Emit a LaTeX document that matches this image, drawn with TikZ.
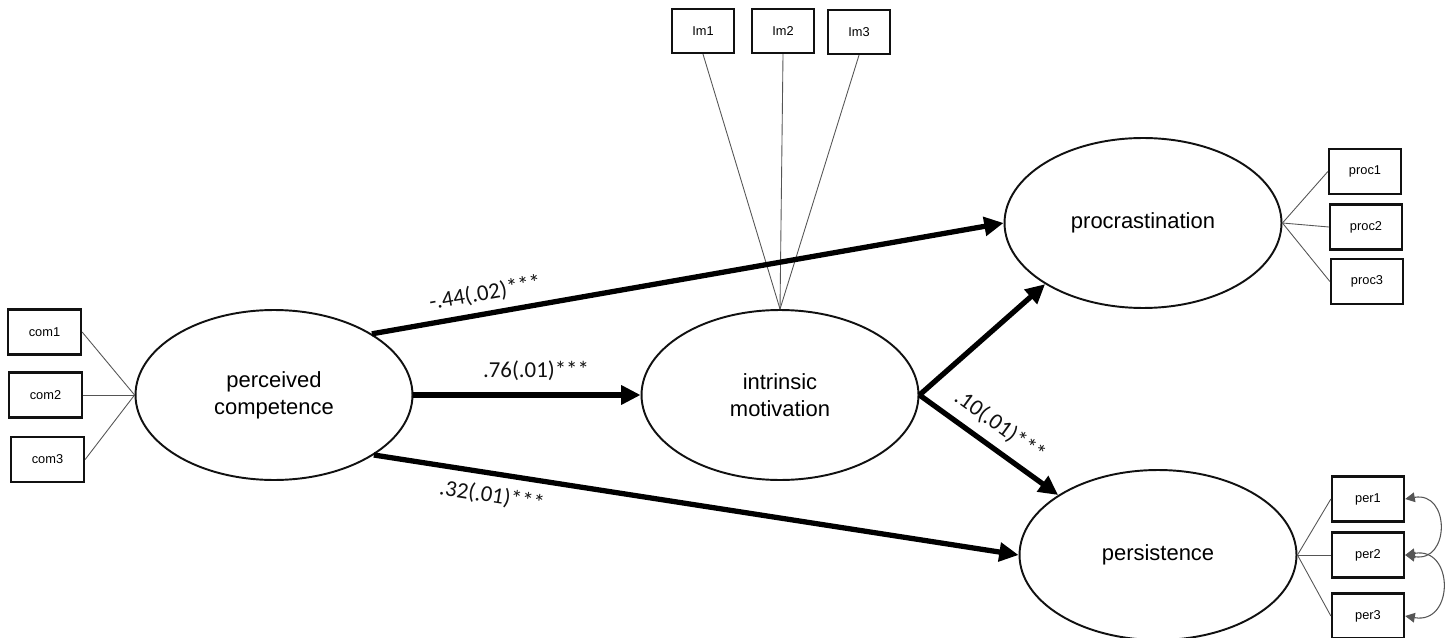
\documentclass[tikz,border=0pt]{standalone}
\usepackage{fontspec}
\setmainfont{Liberation Sans}
\newfontfamily\coeffont{Carlito}
\usepackage{tikz}
\usetikzlibrary{arrows.meta,shapes.geometric,positioning}
\definecolor{ink}{HTML}{111111}
\definecolor{thin}{HTML}{555555}
\tikzset{
  latent/.style={ellipse, draw=ink, line width=1.1pt, minimum width=5.54cm, minimum height=3.4cm, inner sep=0pt, align=center, font=\fontsize{12.5}{15.5}\selectfont},
  obs/.style={rectangle, draw=ink, line width=1.3pt, minimum width=1.44cm, minimum height=0.9cm, inner sep=0pt, font=\fontsize{7.3}{9}\selectfont},
  load/.style={draw=thin, line width=0.5pt},
  effect/.style={draw=black, line width=3pt, -{Triangle[length=11pt,width=10.5pt]}},
  cov/.style={draw=thin, line width=0.6pt, {Triangle[length=5.5pt,width=5.5pt]}-{Triangle[length=5.5pt,width=5.5pt]}},
  coef/.style={text=ink, font=\coeffont\fontsize{13}{15}\selectfont, inner sep=0pt},
}
\begin{document}
\begin{tikzpicture}[x=0.02cm, y=-0.02cm]
\useasboundingbox (0,0) rectangle (1452,638);
\node[latent] (pc) at (274,395) {perceived\\competence};
\node[latent] (im) at (780,395) {intrinsic\\motivation};
\node[latent] (pr) at (1143,223) {procrastination};
\node[latent] (pe) at (1158,555) {persistence};
\foreach \n/\x/\y in {com1/44.5/332, com2/45.5/395, com3/47.5/459.5}{
  \node[obs, minimum width=1.46cm] (\n) at (\x,\y) {\n};
  \draw[load] (\n.east) -- (pc.west);
}
\foreach \n/\x/\y in {Im1/703/31, Im2/783/31, Im3/859/32}{
  \node[obs, minimum width=1.24cm, minimum height=0.88cm] (\n) at (\x,\y) {\n};
  \draw[load] (\n.south) -- (im.north);
}
\foreach \n/\x/\y in {proc1/1365/171.5, proc2/1366/227, proc3/1367/281.5}{
  \node[obs] (\n) at (\x,\y) {\n};
  \draw[load] (\n.west) -- (pr.east);
}
\foreach \n/\y in {per1/499, per2/555, per3/616}{
  \node[obs] (\n) at (1368,\y) {\n};
  \draw[load] (\n.west) -- (pe.east);
}
\draw[cov] (per1.east) to[out=10, in=-10, looseness=2.1] (per2.east);
\draw[cov] (per2.east) to[out=10, in=-10, looseness=2.1] (per3.east);
\draw[effect] (pc.32) -- (pr.west);
\draw[effect] (pc.east) -- (im.west);
\draw[effect] (pc.-31) -- (pe.west);
\draw[effect] (im.east) -- (pr.212);
\draw[effect] (im.east) -- (pe.149);
\node[coef, rotate=10] (c44) at (485,293) {-.44(.02)***};
\node[coef] (c76) at (536,371) {.76(.01)***};
\node[coef, rotate=-9] (c32) at (492,496) {.32(.01)***};
\node[coef, rotate=-36] (c10) at (1000,426) {.10(.01)***};
\end{tikzpicture}
\end{document}
